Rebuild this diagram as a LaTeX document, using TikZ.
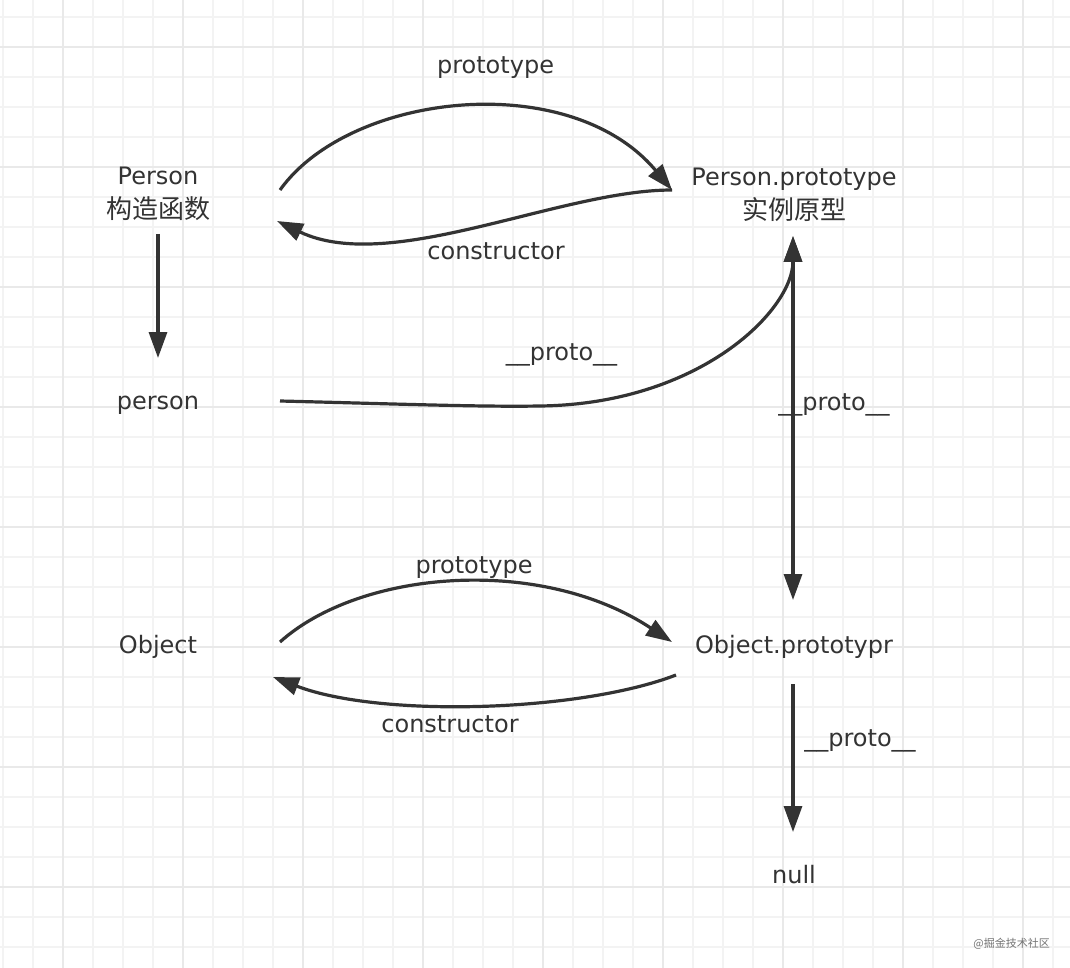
\documentclass[tikz,border=0pt]{standalone}
\usepackage{fontspec}
\setmainfont{DejaVu Sans}
\newfontfamily\cjk{Noto Sans CJK SC}
\usetikzlibrary{arrows.meta}
\definecolor{ink}{HTML}{333333}
\definecolor{gridminor}{HTML}{F3F3F3}
\definecolor{gridmajor}{HTML}{E9E9E9}
\tikzset{
  minorline/.style={draw=gridminor,line width=1.6pt},
  majorline/.style={draw=gridmajor,line width=1.8pt},
  lbl/.style={font=\fontsize{24}{34}\selectfont,text=ink,inner sep=0pt,anchor=base,align=center},
  conn/.style={draw=ink,line width=3.2pt,-{Triangle[length=26pt,width=18pt]}},
  dconn/.style={draw=ink,line width=3.2pt,{Triangle[length=26pt,width=18pt]}-{Triangle[length=26pt,width=18pt]}},
  wmark/.style={font=\cjk\fontsize{11}{13}\selectfont,text=black!55,inner sep=0pt,anchor=east}
}
\newcommand{\zh}[1]{{\cjk\fontsize{26}{34}\selectfont #1}}
\begin{document}
\begin{tikzpicture}[x=1pt,y=-1pt]
\useasboundingbox (0,0) rectangle (1070,968);
\fill[white] (0,0) rectangle (1070,968);
% grid
\foreach \i in {0,...,35} \draw[minorline] ({3+30*\i},0) -- ({3+30*\i},968);
\foreach \i in {0,...,32} \draw[minorline] (0,{17+30*\i}) -- (1070,{17+30*\i});
\foreach \i in {0,...,8} \draw[majorline] ({63+120*\i},0) -- ({63+120*\i},968);
\foreach \i in {0,...,7} \draw[majorline] (0,{47+120*\i}) -- (1070,{47+120*\i});

% nodes
\node[lbl] (Person) at (158,219) {Person\\\zh{构造函数}};
\node[lbl] (PersonProto) at (794,220) {Person.prototype\\\zh{实例原型}};
\node[lbl] (person) at (158,409) {person};
\node[lbl] (Object) at (158,653) {Object};
\node[lbl] (ObjectProto) at (794,653) {Object.prototypr};
\node[lbl] (null) at (794,883) {null};

% edge labels
\node[lbl] (l1) at (495.5,74) {prototype};
\node[lbl] (l2) at (496,260) {constructor};
\node[lbl] (l3) at (561.5,360) {\_\_proto\_\_};
\node[lbl] (l4) at (834,410) {\_\_proto\_\_};
\node[lbl] (l5) at (474,573) {prototype};
\node[lbl] (l6) at (450,732) {constructor};
\node[lbl] (l7) at (860,746) {\_\_proto\_\_};

\node[wmark] (wm) at (1050,944) {@掘金技术社区};

% ports
\coordinate (PersonE1) at (280,190);
\coordinate (PersonE2) at (277,221);
\coordinate (PersonS) at (158,234);
\coordinate (personN) at (158,358);
\coordinate (personE) at (280,401);
\coordinate (PPw) at (672,190);
\coordinate (PPs) at (793,236);
\coordinate (OPn) at (793,600);
\coordinate (OPw1) at (672,642);
\coordinate (OPw2) at (676,675);
\coordinate (OPs) at (793,684);
\coordinate (nullN) at (793,832);
\coordinate (ObjectE1) at (280,642);
\coordinate (ObjectE2) at (273,677);
\coordinate (mid) at (540,406);

% connectors
\draw[conn] (PersonE1) .. controls (350,92) and (570,68) .. (PPw);
\draw[conn] (PPw) .. controls (560,190) and (390,275) .. (PersonE2);
\draw[conn] (PersonS) -- (personN);
\draw[conn] (personE) .. controls (400,404) and (480,407) .. (mid) .. controls (700,404) and (793,310) .. (PPs);
\draw[dconn] (PPs) -- (OPn);
\draw[conn] (ObjectE1) .. controls (360,570) and (540,555) .. (OPw1);
\draw[conn] (OPw2) .. controls (580,712) and (380,718) .. (ObjectE2);
\draw[conn] (OPs) -- (nullN);
\end{tikzpicture}
\end{document}
